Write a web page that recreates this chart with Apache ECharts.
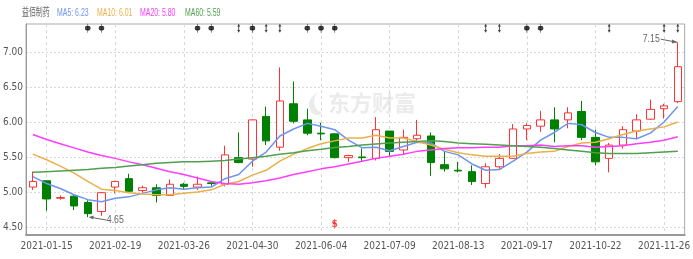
<!DOCTYPE html>
<html><head><meta charset="utf-8">
<script src="https://cdn.jsdelivr.net/npm/echarts@6/dist/echarts.min.js"></script>
<style>html,body{margin:0;padding:0;background:#fff}#c{width:693px;height:259px}</style>
</head><body><div id="c"></div>
<script>
const dates = ['2021-01-08','2021-01-15','2021-01-22','2021-01-29','2021-02-05','2021-02-10','2021-02-19','2021-02-26','2021-03-05','2021-03-12','2021-03-19','2021-03-26','2021-04-02','2021-04-09','2021-04-16','2021-04-23','2021-04-30','2021-05-07','2021-05-14','2021-05-21','2021-05-28','2021-06-04','2021-06-11','2021-06-18','2021-06-25','2021-07-02','2021-07-09','2021-07-16','2021-07-23','2021-07-30','2021-08-06','2021-08-13','2021-08-20','2021-08-27','2021-09-03','2021-09-10','2021-09-17','2021-09-24','2021-09-30','2021-10-08','2021-10-15','2021-10-22','2021-10-29','2021-11-05','2021-11-12','2021-11-19','2021-11-26','2021-12-03'];
const opens  = [5.08,5.17,4.92,4.95,4.86,4.73,5.08,5.20,5.03,5.07,4.96,5.12,5.08,5.14,5.12,5.50,5.48,6.09,5.65,6.27,6.04,5.85,5.84,5.50,5.51,5.49,5.88,5.61,5.77,5.81,5.40,5.32,5.30,5.13,5.37,5.49,5.91,5.95,6.04,6.04,6.16,5.79,5.49,5.68,5.88,6.05,6.20,6.30];
const closes = [5.16,4.91,4.93,4.81,4.70,5.00,5.16,5.02,5.07,4.96,5.12,5.09,5.12,5.13,5.54,5.43,6.04,5.74,6.31,6.02,5.85,5.84,5.50,5.53,5.50,5.90,5.59,5.79,5.82,5.43,5.34,5.31,5.16,5.37,5.49,5.91,5.96,6.04,5.91,6.14,5.79,5.44,5.68,5.90,6.04,6.19,6.24,6.80];
const lows   = [5.04,4.74,4.90,4.75,4.65,4.67,4.99,5.01,5.00,4.86,4.95,5.05,5.04,5.10,5.09,5.42,5.37,5.68,5.60,5.99,5.82,5.75,5.49,5.44,5.45,5.46,5.52,5.54,5.74,5.24,5.30,5.29,5.11,5.07,5.34,5.48,5.75,5.87,5.72,5.92,5.75,5.39,5.29,5.63,5.76,6.04,6.06,6.28];
const highs  = [5.30,5.17,4.96,4.98,4.89,5.01,5.17,5.27,5.10,5.12,5.19,5.14,5.23,5.16,5.67,5.86,6.05,6.23,6.79,6.59,6.20,6.00,5.85,5.54,5.63,6.08,5.88,5.90,6.04,5.86,5.59,5.44,5.39,5.42,5.55,5.98,5.99,6.17,6.22,6.22,6.31,5.90,5.71,5.95,6.12,6.33,6.27,7.15];
const ma5  = [5.23,5.13,5.06,4.97,4.90,4.87,4.92,4.94,4.99,5.04,5.07,5.05,5.07,5.08,5.20,5.26,5.45,5.58,5.81,5.91,5.99,5.95,5.90,5.75,5.64,5.65,5.60,5.66,5.72,5.71,5.59,5.54,5.41,5.32,5.33,5.45,5.58,5.75,5.86,5.99,5.97,5.86,5.79,5.79,5.77,5.85,6.01,6.23];
const ma10 = [5.55,5.47,5.38,5.28,5.16,5.05,5.03,5.00,4.98,4.97,4.97,4.99,5.01,5.04,5.12,5.16,5.25,5.32,5.45,5.55,5.63,5.70,5.74,5.78,5.78,5.82,5.78,5.78,5.73,5.68,5.62,5.57,5.54,5.52,5.52,5.52,5.56,5.58,5.59,5.66,5.71,5.72,5.77,5.83,5.88,5.91,5.94,6.01];
const ma20 = [5.83,5.76,5.70,5.64,5.58,5.53,5.49,5.44,5.40,5.35,5.30,5.26,5.21,5.16,5.13,5.12,5.14,5.17,5.21,5.26,5.30,5.34,5.37,5.41,5.45,5.49,5.52,5.55,5.59,5.61,5.63,5.64,5.64,5.65,5.65,5.67,5.67,5.68,5.66,5.67,5.67,5.65,5.66,5.67,5.70,5.72,5.75,5.80];
const ma60 = [5.29,5.30,5.31,5.32,5.33,5.35,5.36,5.38,5.40,5.42,5.43,5.44,5.44,5.45,5.46,5.48,5.50,5.52,5.55,5.57,5.60,5.62,5.645,5.66,5.68,5.695,5.71,5.72,5.73,5.74,5.73,5.71,5.70,5.69,5.68,5.67,5.66,5.65,5.63,5.61,5.59,5.57,5.56,5.56,5.56,5.57,5.58,5.59];
const yTicks = [4.5,5.0,5.5,6.0,6.5,7.0];
const dotMarks = [4,5,12,13,16,20,21,22,36,37];
const arrowMarks = [15,17,18,33,34,42,46,47];
const dividendMarks = [22];
const stockName = '益佰制药';
const lowNote = {index:4, value:4.65, text:'4.65'};
const highNote = {index:47, value:7.15, text:'7.15'};

const FONT = "'Liberation Sans Narrow','Arial Narrow','DejaVu Sans Condensed',sans-serif";
const yMin = 4.395, yMax = 7.41;
const markerLevel = yMax - 0.06;
const bottomLevel = yMin + 0.09;
const labelInterval = (i) => i % 5 === 1;
const colors = {ma5:'#6f94f0', ma10:'#eab04a', ma20:'#ff3cff', ma60:'#4fa04f'};

const chart = echarts.init(document.getElementById('c'), null, {renderer:'canvas'});
const kdata = dates.map((d,i)=>[opens[i],closes[i],lows[i],highs[i]]);
const last = a => a[a.length-1].toFixed(2);

const lineSeries = (name, data, color) => ({
  name, type:'line', data, symbol:'none', smooth:false,
  lineStyle:{color, width:1.5}, itemStyle:{color}, z:3, silent:true
});

const option = {
  animation:false,
  grid:{left:21, right:5, top:24, bottom:24, show:true, borderColor:'#aaa', borderWidth:1},
  xAxis:{
    type:'category', data:dates, boundaryGap:true,
    axisLine:{lineStyle:{color:'#999', width:2}},
    axisTick:{show:false, alignWithLabel:true, interval:labelInterval},
    axisLabel:{interval:labelInterval, color:'#555', fontFamily:FONT, fontSize:10, margin:6},
    splitLine:{show:true, interval:labelInterval, alignWithLabel:true, lineStyle:{color:'#d8d8d8', type:[3,3]}}
  },
  yAxis:{
    type:'value', min:yMin, max:yMax,
    axisLine:{show:true, lineStyle:{color:'#999'}},
    axisTick:{show:false, customValues:yTicks},
    axisLabel:{customValues:yTicks, formatter:v=>v.toFixed(2), color:'#555', fontFamily:FONT, fontSize:10, margin:3},
    splitLine:{show:true, lineStyle:{color:'#d8d8d8', type:[2,2]}}
  },
  series:[
    {name:'K', type:'candlestick', data:kdata, barWidth:8, z:2,
     itemStyle:{color:'#ffffff', color0:'#008000', borderColor:'#ff3333', borderColor0:'#008000', borderWidth:1}},
    lineSeries('MA5', ma5, colors.ma5),
    lineSeries('MA10', ma10, colors.ma10),
    lineSeries('MA20', ma20, colors.ma20),
    lineSeries('MA60', ma60, colors.ma60),
    {type:'scatter', data:dotMarks.map(i=>[i, markerLevel]), symbol:'path://M5,0 L5,12 M5,3.5 A2.5,2.5 0 1,0 5,8.5 A2.5,2.5 0 1,0 5,3.5 Z',
     symbolSize:[5,9], itemStyle:{color:'#111', borderColor:'#111', borderWidth:0.8}, z:5, silent:true},
    {type:'scatter', data:arrowMarks.map(i=>[i, markerLevel]), symbol:'path://M2,0 L4,3 L2.6,3 L2.6,7 L4,7 L2,10 L0,7 L1.4,7 L1.4,3 L0,3 Z',
     symbolSize:[3,9], itemStyle:{color:'#111'}, z:5, silent:true},
    {type:'scatter', data:dividendMarks.map(i=>[i, bottomLevel]), symbol:'triangle', symbolSize:[4,3], symbolOffset:[0,-6],
     itemStyle:{color:'#ff2020'}, z:5, silent:true,
     label:{show:true, position:'inside', offset:[0,2], formatter:'$', color:'#ff2020', fontSize:10, fontWeight:'bold', fontFamily:FONT}}
  ]
};
chart.setOption(option);

const legendItems = [
  {text:stockName, color:'#666', x:22},
  {text:'MA5: '+last(ma5), color:colors.ma5, x:57},
  {text:'MA10: '+last(ma10), color:colors.ma10, x:97},
  {text:'MA20: '+last(ma20), color:colors.ma20, x:140},
  {text:'MA60: '+last(ma60), color:colors.ma60, x:185}
];
const p = (i,v) => chart.convertToPixel({xAxisIndex:0, yAxisIndex:0}, [i,v]);
const lp = p(lowNote.index, lowNote.value);
const hp = p(highNote.index, highNote.value);
const graphics = legendItems.map(it=>({
  type:'text', x:it.x, y:13, scaleX:0.63, z:10,
  style:{text:it.text, fill:it.color, font:"11px 'Liberation Sans', 'Noto Sans CJK SC', sans-serif", textVerticalAlign:'middle'}
}));
// watermark
graphics.push({type:'text', x:328, y:103, z:-1, silent:true,
  style:{text:'东方财富', fill:'rgba(190,190,190,0.3)', font:"bold 22px 'Noto Sans CJK SC', sans-serif", textVerticalAlign:'middle'}});
graphics.push({type:'polygon', x:307, y:92, z:-1, silent:true,
  shape:{points:[[10,0],[5,5],[2,10],[2,15],[4,20],[8,23],[12,23],[15,20],[11,19],[8,15],[7,10],[8,5]]},
  style:{fill:'rgba(190,190,190,0.3)'}});
// low annotation
graphics.push({type:'line', z:20, shape:{x1:lp[0]+2, y1:lp[1], x2:lp[0]+19, y2:lp[1]+3}, style:{stroke:'#666', lineWidth:1}});
graphics.push({type:'polygon', z:20, shape:{points:[[lp[0]+1,lp[1]],[lp[0]+6,lp[1]-1.6],[lp[0]+5.4,lp[1]+2]]}, style:{fill:'#666'}});
graphics.push({type:'text', x:lp[0]+19, y:lp[1]+3, z:20, scaleX:0.8,
  style:{text:lowNote.text, fill:'#666', font:"11px 'Liberation Sans', sans-serif", textVerticalAlign:'middle'}});
// high annotation
graphics.push({type:'line', z:20, shape:{x1:hp[0]-17, y1:hp[1]-3, x2:hp[0]-1, y2:hp[1]}, style:{stroke:'#666', lineWidth:1}});
graphics.push({type:'polygon', z:20, shape:{points:[[hp[0]-0.5,hp[1]],[hp[0]-5.6,hp[1]-2.6],[hp[0]-6,hp[1]+1.2]]}, style:{fill:'#666'}});
graphics.push({type:'text', x:hp[0]-18, y:hp[1]-3, z:20, scaleX:0.8,
  style:{text:highNote.text, fill:'#666', font:"11px 'Liberation Sans', sans-serif", textVerticalAlign:'middle', textAlign:'right'}});
chart.setOption({graphic:graphics});
</script></body></html>
